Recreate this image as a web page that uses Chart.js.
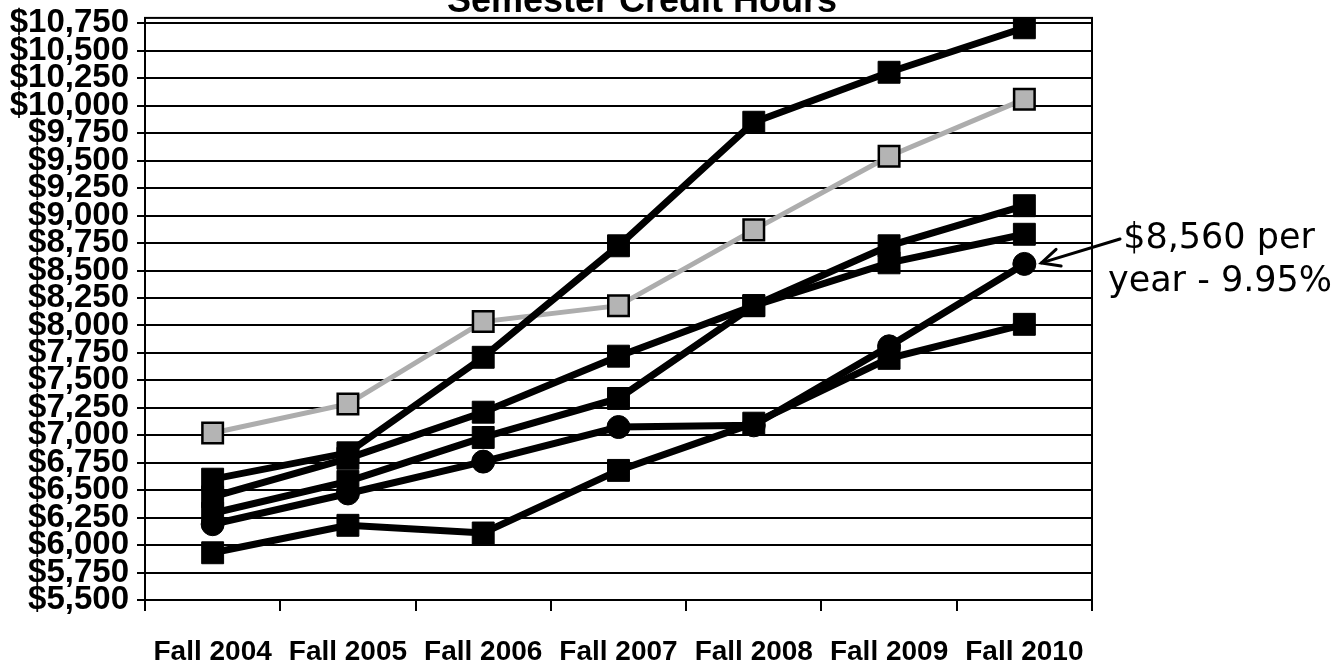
<!DOCTYPE html>
<html>
<head>
<meta charset="utf-8">
<script src="https://cdn.jsdelivr.net/npm/chart.js@4/dist/chart.umd.min.js"></script>
<style>
html,body{margin:0;padding:0;background:#fff;}
#wrap{position:relative;width:1343px;height:663px;}
</style>
</head>
<body>
<div id="wrap"><canvas id="c" width="1343" height="663"></canvas></div>
<script>
const categories = ['Fall 2004','Fall 2005','Fall 2006','Fall 2007','Fall 2008','Fall 2009','Fall 2010'];
const seriesA = [6600, 6840, 7710, 8725, 9850, 10305, 10710];
const seriesGray = [7020, 7285, 8035, 8180, 8870, 9540, 10060];
const seriesC = [6440, 6790, 7210, 7720, 8180, 8725, 9090];
const seriesD = [6290, 6580, 6980, 7335, 8180, 8570, 8830];
const seriesCircle = [6190, 6470, 6760, 7075, 7090, 7810, 8560];
const seriesF = [5930, 6180, 6110, 6680, 7110, 7700, 8010];
const yTickValues = [5500, 5750, 6000, 6250, 6500, 6750, 7000, 7250, 7500, 7750, 8000, 8250, 8500, 8750, 9000, 9250, 9500, 9750, 10000, 10250, 10500, 10750];
const yMin = 5500, yMax = 10800;
const titleText = 'Semester Credit Hours';
const noteLines = ['$8,560 per', 'year - 9.95%'];

const blackSq = (data, order) => ({
  data, order, borderColor:'#000', backgroundColor:'#000', borderWidth:7,
  pointStyle:'rect', pointRadius:15.5, pointBorderWidth:1, pointBackgroundColor:'#000', pointBorderColor:'#000'
});

const overlay = {
  id:'overlay',
  beforeDatasetsDraw(chart){
    const {ctx, chartArea:a} = chart;
    ctx.save();
    ctx.strokeStyle='#000'; ctx.lineWidth=2;
    ctx.strokeRect(a.left, a.top, a.right-a.left, a.bottom-a.top);
    ctx.restore();
  },
  afterDraw(chart){
    const {ctx} = chart;
    const xs = chart.scales.x, ys = chart.scales.y;
    ctx.save();
    ctx.fillStyle='#000';
    ctx.font='bold 36px "Liberation Sans", Arial, sans-serif';
    ctx.textAlign='center'; ctx.textBaseline='alphabetic';
    ctx.fillText(titleText, 642, 12);
    ctx.font='35px "DejaVu Sans", Verdana, sans-serif';
    ctx.fillText(noteLines[0], 1219, 248);
    ctx.fillText(noteLines[1], 1220, 291);
    const px = xs.getPixelForValue(6), py = ys.getPixelForValue(seriesCircle[6]);
    const tx = px + 17, ty = py - 1;
    const sx = 1120, sy = 239;
    ctx.strokeStyle='#000'; ctx.lineWidth=3; ctx.lineCap='round';
    ctx.beginPath(); ctx.moveTo(sx, sy); ctx.lineTo(tx, ty); ctx.stroke();
    const ang = Math.atan2(sy-ty, sx-tx);
    const L = 20, sp = 0.45;
    ctx.beginPath();
    ctx.moveTo(tx + L*Math.cos(ang+sp), ty + L*Math.sin(ang+sp));
    ctx.lineTo(tx, ty);
    ctx.lineTo(tx + L*Math.cos(ang-sp), ty + L*Math.sin(ang-sp));
    ctx.stroke();
    ctx.restore();
  }
};

new Chart(document.getElementById('c'), {
  type:'line',
  data:{
    labels: categories,
    datasets:[
      blackSq(seriesA, 1),
      blackSq(seriesC, 2),
      blackSq(seriesD, 3),
      {data:seriesCircle, order:4, borderColor:'#000', backgroundColor:'#000', borderWidth:7,
       pointStyle:'circle', pointRadius:11.5, pointBorderWidth:1, pointBackgroundColor:'#000', pointBorderColor:'#000'},
      blackSq(seriesF, 5),
      {data:seriesGray, order:6, borderColor:'#adadad', backgroundColor:'#b0b0b0', borderWidth:5,
       pointStyle:'rect', pointRadius:14.5, pointBorderWidth:2.5, pointBackgroundColor:'#b4b4b4', pointBorderColor:'#000'}
    ]
  },
  options:{
    responsive:false, animation:false,
    layout:{padding:{top:17, right:251, left:0, bottom:0}},
    plugins:{legend:{display:false}, tooltip:{enabled:false}, title:{display:false}},
    elements:{line:{tension:0}},
    scales:{
      x:{
        offset:true,
        grid:{offset:true, drawOnChartArea:false, drawTicks:true, tickLength:11, color:'#000', lineWidth:2},
        border:{display:true, color:'#000', width:2},
        ticks:{color:'#000', padding:24, font:{family:'"Liberation Sans", Arial, sans-serif', weight:'bold', size:28}, maxRotation:0, autoSkip:false},
        afterFit(s){ s.height = 63; }
      },
      y:{
        min:yMin, max:yMax,
        afterBuildTicks(s){ s.ticks = yTickValues.map(v => ({value:v})); },
        grid:{color:'#000', lineWidth:2, tickLength:8, drawTicks:true},
        border:{display:true, color:'#000', width:2},
        ticks:{color:'#000', padding:8, autoSkip:false,
          font:{family:'"Liberation Sans", Arial, sans-serif', weight:'bold', size:33, lineHeight:0.6},
          callback:(v)=> '$' + Number(v).toLocaleString('en-US')},
        afterFit(s){ s.width = 145; }
      }
    }
  },
  plugins:[overlay]
});
</script>
</body>
</html>
